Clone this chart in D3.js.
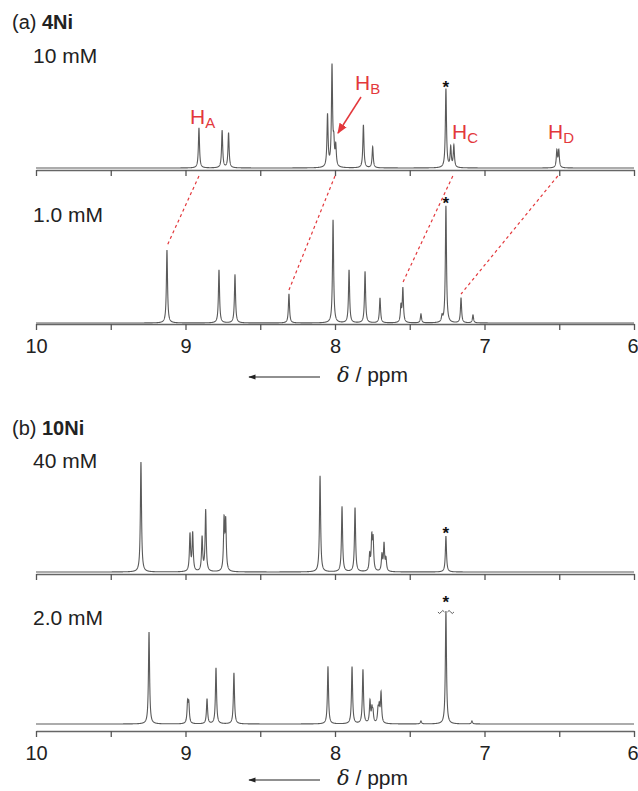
<!DOCTYPE html>
<html>
<head>
<meta charset="utf-8">
<script src="https://cdn.jsdelivr.net/npm/d3@7"></script>
<style>
  body { margin: 0; background: #fff; }
  svg text { font-family: "Liberation Sans", Arial, sans-serif; }
</style>
</head>
<body>
<script>
// axis ticks (ppm)
var tickValues = [10, 9.5, 9, 8.5, 8, 7.5, 7, 6.5, 6];
var tickLabels = ["10", "", "9", "", "8", "", "7", "", "6"];

// (a) 4Ni, 10 mM : peak positions (ppm) and heights
var ppm4Ni10 = [8.910, 8.755, 8.712, 8.050, 8.020, 8.008, 7.995, 7.810, 7.748, 7.258, 7.226, 7.205, 6.516, 6.503];
var int4Ni10 = [40, 37, 35, 52, 100, 21, 20, 43, 21, 79, 20, 22, 17, 17];

// (a) 4Ni, 1.0 mM
var ppm4Ni1 = [9.124, 8.776, 8.669, 8.308, 8.013, 7.906, 7.799, 7.699, 7.559, 7.546, 7.425, 7.284, 7.258, 7.157, 7.077];
var int4Ni1 = [73, 53, 48, 29, 103, 53, 51, 25, 16, 34, 9, 6, 117, 25, 8];

// (b) 10Ni, 40 mM
var ppm10Ni40 = [9.298, 8.970, 8.952, 8.889, 8.865, 8.742, 8.731, 8.100, 7.953, 7.866, 7.768, 7.754, 7.745, 7.686, 7.672, 7.659, 7.258];
var int10Ni40 = [110, 37, 38, 34, 61, 50, 48, 96, 65, 64, 16, 32, 30, 16, 27, 12, 36];

// (b) 10Ni, 2.0 mM (solvent peak clipped)
var ppm10Ni2 = [9.244, 8.986, 8.978, 8.856, 8.796, 8.676, 8.047, 7.886, 7.813, 7.766, 7.753, 7.746, 7.712, 7.704, 7.692, 7.425, 7.258, 7.084];
var int10Ni2 = [92, 20, 19, 25, 56, 51, 57, 57, 54, 22, 13, 10, 13, 15, 30, 3, 113, 3];

// proton assignments: shift at high and low concentration
var assignLabels = ["A", "B", "C", "D"];
var assignHigh = [8.910, 8.000, 7.212, 6.510];
var assignLow = [9.124, 8.308, 7.548, 7.157];
var assignLowInt = [73, 29, 36, 25];

var W = 638, H = 791;
var red = "#e3383c", grey = "#5a5a5a";

var svg = d3.select("body").append("svg")
    .attr("width", W).attr("height", H);

var defs = svg.append("defs");
defs.append("marker")
    .attr("id", "redHead").attr("viewBox", "0 0 10 10")
    .attr("refX", 9).attr("refY", 5)
    .attr("markerWidth", 7).attr("markerHeight", 7)
    .attr("orient", "auto")
  .append("path").attr("d", "M0,1 L10,5 L0,9 Z").attr("fill", red);
defs.append("marker")
    .attr("id", "blackHead").attr("viewBox", "0 0 10 10")
    .attr("refX", 9).attr("refY", 5)
    .attr("markerWidth", 8).attr("markerHeight", 6)
    .attr("orient", "auto")
  .append("path").attr("d", "M0,1.5 L10,5 L0,8.5 Z").attr("fill", "#222");

var x = d3.scaleLinear().domain([10, 6]).range([36, 634]);

var hw = 0.0045; // lorentzian half width (ppm)
function sample(ppm, inten) {
    var pts = [];
    for (var p = 10; p >= 6 - 1e-9; p -= 0.0005) pts.push(p);
    ppm.forEach(function(c) { pts.push(c); });
    pts.sort(function(a, b) { return b - a; });
    return pts.map(function(p) {
        var v = 0;
        for (var i = 0; i < ppm.length; i++) {
            var d = (p - ppm[i]) / hw;
            v += inten[i] / (1 + d * d);
        }
        return [p, v];
    });
}

function drawAxis(yAxis, labels) {
    var axis = d3.axisBottom(x)
        .tickValues(tickValues)
        .tickSize(6)
        .tickSizeOuter(0)
        .tickFormat(function(d, i) { return labels ? tickLabels[i] : ""; });
    var g = svg.append("g")
        .attr("transform", "translate(0," + yAxis + ")")
        .call(axis);
    g.select(".domain").attr("stroke", "#666").attr("stroke-width", 1.6);
    g.selectAll(".tick line").attr("stroke", "#555").attr("stroke-width", 1.3);
    g.selectAll(".tick text")
        .attr("fill", "#222")
        .attr("font-size", 20)
        .attr("dy", "1.0em")
        .style("font-family", "'Liberation Sans', Arial, sans-serif");
    // last label sits at the window edge: keep it inside
    g.selectAll(".tick text").filter(function(d) { return d === 6; })
        .attr("text-anchor", "end").attr("x", 4);
}

function drawSpectrum(ppm, inten, base) {
    var y = d3.scaleLinear().domain([0, 100]).range([base, base - 100]);
    var line = d3.line()
        .x(function(d) { return x(d[0]); })
        .y(function(d) { return y(d[1]); });
    svg.append("path")
        .datum(sample(ppm, inten))
        .attr("d", line)
        .attr("fill", "none")
        .attr("stroke", grey)
        .attr("stroke-width", 1.1);
    return y;
}

function star(ppm, yTop) {
    svg.append("text")
        .attr("x", x(ppm)).attr("y", yTop + 5)
        .attr("text-anchor", "middle")
        .attr("font-size", 17).attr("font-weight", "bold")
        .attr("fill", "#111")
        .text("*");
}

function label(txt, xx, yy, size) {
    return svg.append("text").attr("x", xx).attr("y", yy)
        .attr("font-size", size).attr("fill", "#222").text(txt);
}

function deltaLabel(yy) {
    svg.append("line")
        .attr("x1", 320).attr("x2", 249)
        .attr("y1", yy).attr("y2", yy)
        .attr("stroke", "#222").attr("stroke-width", 1.2)
        .attr("marker-end", "url(#blackHead)");
    var t = svg.append("text").attr("x", 337).attr("y", yy + 5)
        .attr("font-size", 21).attr("fill", "#222");
    t.append("tspan").attr("font-style", "italic")
        .style("font-family", "'DejaVu Serif', serif").text("δ");
    t.append("tspan").text(" / ppm");
}

// ---------- panel (a) ----------
var ta = label("(a) ", 12, 29, 20);
ta.append("tspan").attr("font-weight", "bold").text("4Ni");
label("10 mM", 33, 63, 21);
label("1.0 mM", 33, 222, 21);

drawAxis(170, false);
var yA1 = drawSpectrum(ppm4Ni10, int4Ni10, 168);
drawAxis(324, true);
var yA2 = drawSpectrum(ppm4Ni1, int4Ni1, 323);
star(7.258, yA1(80));
star(7.258, yA2(119));
deltaLabel(377);

// proton labels
var hPos = [[190, 124], [355, 90], [452, 139], [548, 139]];
assignLabels.forEach(function(s, i) {
    var t = svg.append("text")
        .attr("x", hPos[i][0]).attr("y", hPos[i][1])
        .attr("font-size", 21).attr("fill", red);
    t.append("tspan").text("H");
    t.append("tspan").attr("font-size", 15).attr("dy", 4).text(s);
});
svg.append("line")
    .attr("x1", 361).attr("y1", 97)
    .attr("x2", 338).attr("y2", 133)
    .attr("stroke", red).attr("stroke-width", 1.5)
    .attr("marker-end", "url(#redHead)");

// dashed correlation lines
svg.selectAll("line.link")
    .data(assignHigh)
    .enter().append("line")
    .attr("class", "link")
    .attr("x1", function(d) { return x(d); })
    .attr("y1", 176)
    .attr("x2", function(d, i) { return x(assignLow[i]); })
    .attr("y2", function(d, i) { return yA2(assignLowInt[i]) - 4; })
    .attr("stroke", red).attr("stroke-width", 1.2)
    .attr("stroke-dasharray", "3,3");

// ---------- panel (b) ----------
var tb = label("(b) ", 12, 435, 20);
tb.append("tspan").attr("font-weight", "bold").text("10Ni");
label("40 mM", 33, 468, 21);
label("2.0 mM", 33, 625, 21);

drawAxis(574, false);
var yB1 = drawSpectrum(ppm10Ni40, int10Ni40, 572);
drawAxis(731, true);
var yB2 = drawSpectrum(ppm10Ni2, int10Ni2, 724);
star(7.258, yB1(38));
star(7.258, yB2(121));
deltaLabel(780);

// break marks on clipped solvent peak
var cx = x(7.258), cy = yB2(113) + 1;
[-1, 1].forEach(function(s) {
    var p = d3.path();
    var x0 = cx + s * 1.5, x1 = cx + s * 8;
    p.moveTo(x0, cy);
    p.quadraticCurveTo((x0 * 3 + x1) / 4, cy - 3, (x0 + x1) / 2, cy);
    p.quadraticCurveTo((x0 + x1 * 3) / 4, cy + 3, x1, cy);
    svg.append("path").attr("d", p.toString())
        .attr("fill", "none").attr("stroke", grey).attr("stroke-width", 1);
});
</script>
</body>
</html>
